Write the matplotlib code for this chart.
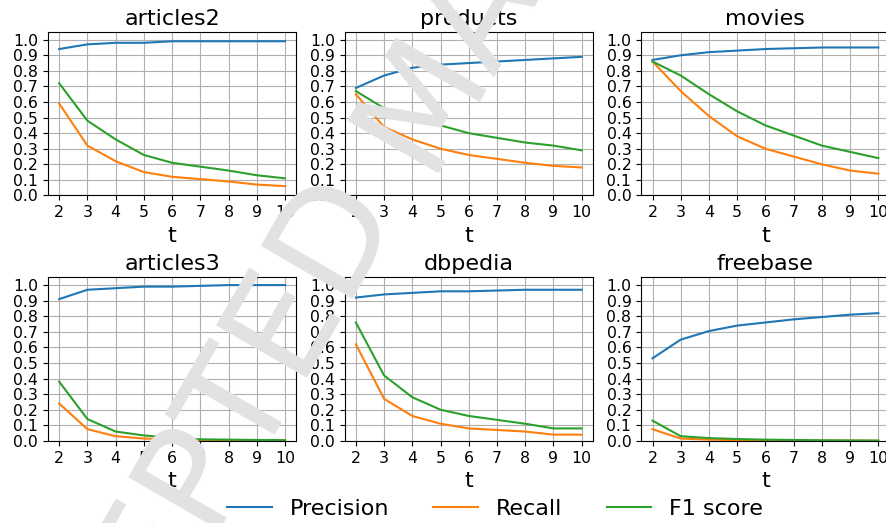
import numpy as np
import matplotlib
matplotlib.use('Agg')
import matplotlib.pyplot as plt

t = [2, 3, 4, 5, 6, 7, 8, 9, 10]
titles = ['articles2', 'products', 'movies', 'articles3', 'dbpedia', 'freebase']

# precision / recall / f1 por dataset
precision = [
    [0.94, 0.97, 0.98, 0.98, 0.99, 0.99, 0.99, 0.99, 0.99],
    [0.69, 0.77, 0.82, 0.84, 0.85, 0.86, 0.87, 0.88, 0.89],
    [0.87, 0.90, 0.92, 0.93, 0.94, 0.945, 0.95, 0.95, 0.95],
    [0.91, 0.97, 0.98, 0.99, 0.99, 0.995, 1.0, 1.0, 1.0],
    [0.92, 0.94, 0.95, 0.96, 0.96, 0.965, 0.97, 0.97, 0.97],
    [0.53, 0.65, 0.705, 0.74, 0.76, 0.78, 0.795, 0.81, 0.82],
]
recall = [
    [0.59, 0.32, 0.22, 0.15, 0.12, 0.105, 0.09, 0.07, 0.06],
    [0.65, 0.44, 0.36, 0.30, 0.26, 0.235, 0.21, 0.19, 0.18],
    [0.86, 0.67, 0.51, 0.38, 0.30, 0.25, 0.20, 0.16, 0.14],
    [0.24, 0.075, 0.03, 0.015, 0.01, 0.005, 0.003, 0.002, 0.001],
    [0.62, 0.27, 0.16, 0.11, 0.08, 0.07, 0.06, 0.04, 0.04],
    [0.075, 0.015, 0.008, 0.005, 0.004, 0.003, 0.002, 0.002, 0.001],
]
f1 = [
    [0.72, 0.48, 0.36, 0.26, 0.21, 0.185, 0.16, 0.13, 0.11],
    [0.67, 0.56, 0.50, 0.45, 0.40, 0.37, 0.34, 0.32, 0.29],
    [0.86, 0.77, 0.65, 0.54, 0.45, 0.385, 0.32, 0.28, 0.24],
    [0.38, 0.14, 0.06, 0.035, 0.02, 0.01, 0.008, 0.006, 0.005],
    [0.76, 0.42, 0.28, 0.20, 0.16, 0.135, 0.11, 0.08, 0.08],
    [0.13, 0.03, 0.018, 0.012, 0.008, 0.006, 0.004, 0.003, 0.002],
]

fig, axes = plt.subplots(2, 3, figsize=(8.87, 5.23), dpi=100)
fig.subplots_adjust(left=0.054, right=1.003, top=0.939, bottom=0.157, wspace=0.194, hspace=0.50)

for i, ax in enumerate(axes.flat):
    ax.plot(t, precision[i], label='Precision')
    ax.plot(t, recall[i], label='Recall')
    ax.plot(t, f1[i], label='F1 score')
    ax.set_title(titles[i], fontsize=16, pad=5)
    ax.set_xlabel('t', fontsize=16, labelpad=4)
    ax.set_xticks(t)
    ax.set_yticks(np.arange(0, 1.01, 0.1))
    ax.set_ylim(0, 1.05)
    ax.tick_params(labelsize=11.3)
    ax.grid(True)

handles, labels = axes[0, 0].get_legend_handles_labels()
fig.legend(handles, labels, loc='lower center', bbox_to_anchor=(0.558, -0.03), ncol=3,
           frameon=False, fontsize=16)

# marca d'agua
wm = dict(fontsize=104, color='#e2e2e2', rotation=60, rotation_mode='anchor',
          va='baseline', zorder=10)
fig.text(0.4532, 0.5927, 'ACCEPTED', ha='right', **wm)
fig.text(0.4791, 0.6692, 'MANUSCRIPT', ha='left', **wm)

plt.savefig('out.png')
